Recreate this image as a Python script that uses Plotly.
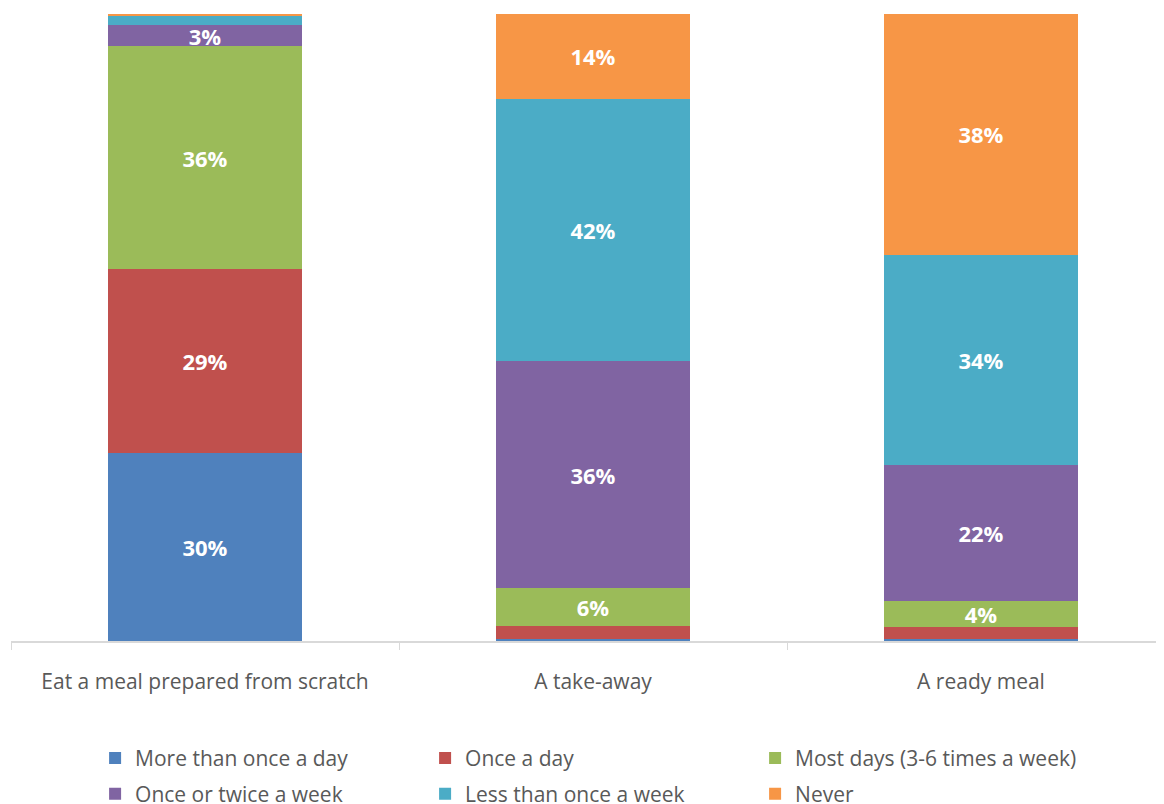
import plotly.graph_objects as go

categories = ["Eat a meal prepared from scratch", "A take-away", "A ready meal"]
series_names = ["More than once a day", "Once a day", "Most days (3-6 times a week)",
                "Once or twice a week", "Less than once a week", "Never"]
more_than_once = [30.0, 0.3, 0.3]
once_a_day = [29.3, 2.1, 1.9]
most_days = [35.6, 6.0, 4.2]
once_twice_week = [3.3, 36.3, 21.7]
less_than_week = [1.5, 41.8, 33.5]
never = [0.3, 13.5, 38.4]
colors = ["#4F81BD", "#C0504D", "#9BBB59", "#8064A2", "#4BACC6", "#F79646"]

series_values = [more_than_once, once_a_day, most_days, once_twice_week, less_than_week, never]

fig = go.Figure()
for i, (name, vals, col) in enumerate(zip(series_names, series_values, colors)):
    fig.add_trace(go.Bar(
        x=categories, y=vals, name=name, marker=dict(color=col, line=dict(width=0)),
        text=[f"{round(v)}%" if v >= 2.5 else "" for v in vals],
        textposition="inside", insidetextanchor="middle",
        textfont=dict(color="white", size=22, family="Open Sans", weight="bold"),
        constraintext="none", cliponaxis=False,
        legend="legend" if i < 3 else "legend2",
    ))

leg_common = dict(orientation="h", xanchor="left", yanchor="middle",
                  entrywidth=285, entrywidthmode="pixels", traceorder="normal",
                  font=dict(size=21, color="#595959"), itemwidth=30,
                  bgcolor="rgba(0,0,0,0)")

fig.update_layout(
    barmode="stack", bargap=0.5,
    width=1156, height=796,
    margin=dict(l=3, r=1, t=6, b=163, autoexpand=False),
    plot_bgcolor="white", paper_bgcolor="white",
    font=dict(family="Open Sans", color="#595959"),
    xaxis=dict(showline=True, linecolor="#D9D9D9", linewidth=1.5,
               range=[-0.5, 2.469],
               ticks="outside", tickson="boundaries", ticklen=7, tickcolor="#D9D9D9",
               tickfont=dict(size=21, color="#595959"), ticklabelstandoff=21,
               showgrid=False),
    yaxis=dict(range=[0, 100], visible=False, showgrid=False),
    legend=dict(x=0.073, y=-0.187, **leg_common),
    legend2=dict(x=0.073, y=-0.244, **leg_common),
    showlegend=True,
)

fig.write_html("out.html")
